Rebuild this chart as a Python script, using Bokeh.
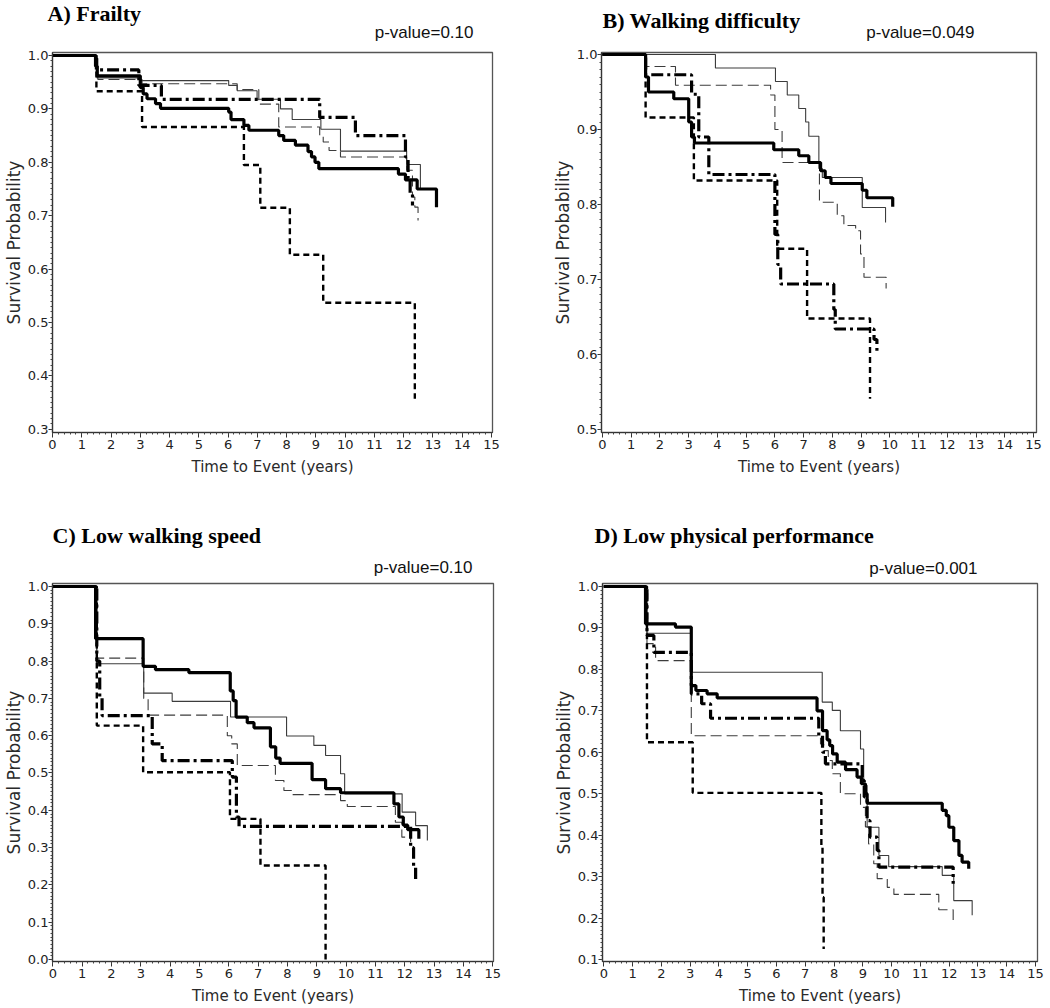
from bokeh.plotting import figure
from bokeh.models import Range1d, SingleIntervalTicker, NumeralTickFormatter
from bokeh.core.properties import value
from bokeh.layouts import column, row
from bokeh.embed import file_html
from bokeh.resources import INLINE

# ---------------- data ----------------
TITLES = ["A) Frailty", "B) Walking difficulty", "C) Low walking speed", "D) Low physical performance"]
PVALUES = ["p-value=0.10", "p-value=0.049", "p-value=0.10", "p-value=0.001"]
X_LABEL = "Time to Event (years)"
Y_LABEL = "Survival Probability"

# Panel A: Frailty
A1_t = [0, 1.47, 1.53, 3.00, 3.10, 3.23, 3.52, 3.69, 6.02, 6.10, 6.54, 6.71, 7.73, 7.90, 8.30, 8.73, 8.85, 8.97, 9.10, 11.82, 12.06, 12.46, 13.12]
A1_s = [1.0, 0.980, 0.962, 0.940, 0.928, 0.919, 0.910, 0.901, 0.894, 0.880, 0.869, 0.860, 0.850, 0.841, 0.832, 0.820, 0.810, 0.800, 0.788, 0.778, 0.767, 0.750, 0.716]
A2_t = [0, 1.52, 3.02, 6.02, 6.31, 6.99, 7.79, 8.19, 9.17, 9.84, 12.10, 12.57]
A2_s = [1.0, 0.958, 0.953, 0.944, 0.934, 0.918, 0.900, 0.880, 0.862, 0.821, 0.796, 0.752]
A3_t = [0, 1.55, 3.06, 6.31, 7.05, 7.73, 9.13, 9.25, 9.45, 9.84, 12.10, 12.30, 12.38, 12.49]
A3_s = [1.0, 0.955, 0.947, 0.936, 0.909, 0.866, 0.850, 0.838, 0.822, 0.810, 0.785, 0.735, 0.716, 0.691]
A4_t = [0, 1.50, 2.95, 3.72, 9.13, 10.35, 12.06, 12.15, 12.22, 12.30]
A4_s = [1.0, 0.973, 0.944, 0.918, 0.884, 0.850, 0.810, 0.770, 0.740, 0.719]
A5_t = [0, 1.50, 3.06, 6.54, 7.10, 8.11, 9.25, 12.38]
A5_s = [1.0, 0.933, 0.866, 0.795, 0.715, 0.627, 0.537, 0.357]

# Panel B: Walking difficulty
B1_t = [0, 1.50, 1.60, 2.48, 3.00, 3.10, 3.20, 5.96, 6.83, 7.18, 7.59, 7.75, 7.95, 9.04, 9.20, 10.10]
B1_s = [1.0, 0.970, 0.950, 0.941, 0.910, 0.890, 0.882, 0.873, 0.865, 0.856, 0.845, 0.836, 0.828, 0.819, 0.809, 0.797]
B2_t = [0, 3.93, 6.02, 6.43, 6.83, 7.07, 7.18, 7.53, 7.65, 9.04, 9.85]
B2_s = [1.0, 0.982, 0.964, 0.946, 0.928, 0.910, 0.891, 0.848, 0.836, 0.796, 0.776]
B3_t = [0, 1.50, 2.54, 5.85, 6.00, 6.25, 7.55, 8.17, 8.40, 8.81, 8.98, 9.10, 9.87]
B3_s = [1.0, 0.984, 0.959, 0.946, 0.900, 0.856, 0.803, 0.785, 0.772, 0.765, 0.734, 0.703, 0.688]
B4_t = [0, 1.50, 3.10, 3.35, 3.70, 6.00, 6.10, 6.20, 8.05, 8.10, 9.45, 9.55]
B4_s = [1.0, 0.973, 0.947, 0.890, 0.840, 0.760, 0.720, 0.694, 0.660, 0.634, 0.620, 0.605]
B5_t = [0, 1.50, 3.18, 6.08, 7.12, 9.31]
B5_s = [1.0, 0.916, 0.832, 0.741, 0.648, 0.541]

# Panel C: Low walking speed
C1_t = [0, 1.46, 3.08, 3.50, 4.64, 6.05, 6.15, 6.25, 6.63, 6.86, 7.42, 7.60, 7.75, 8.84, 9.30, 9.81, 11.63, 11.80, 11.95, 12.10, 12.48]
C1_s = [1.0, 0.860, 0.786, 0.777, 0.769, 0.720, 0.694, 0.650, 0.635, 0.621, 0.570, 0.540, 0.526, 0.482, 0.458, 0.447, 0.417, 0.382, 0.360, 0.348, 0.324]
C2_t = [0, 1.50, 3.10, 4.07, 6.06, 7.97, 8.90, 9.30, 9.81, 9.95, 11.91, 12.37, 12.77]
C2_s = [1.0, 0.793, 0.714, 0.692, 0.650, 0.599, 0.574, 0.547, 0.498, 0.444, 0.395, 0.359, 0.319]
C3_t = [0, 1.50, 3.10, 3.25, 5.95, 6.10, 6.29, 7.59, 7.88, 8.16, 9.81, 10.04, 11.68, 11.90, 12.20]
C3_s = [1.0, 0.808, 0.700, 0.655, 0.600, 0.578, 0.520, 0.480, 0.453, 0.442, 0.426, 0.410, 0.368, 0.328, 0.315]
C4_t = [0, 1.50, 1.60, 1.68, 3.39, 3.73, 6.12, 6.26, 6.35, 12.20, 12.30, 12.37]
C4_s = [1.0, 0.800, 0.703, 0.654, 0.578, 0.533, 0.489, 0.382, 0.357, 0.300, 0.250, 0.216]
C5_t = [0, 1.50, 3.08, 6.04, 7.08, 9.30]
C5_s = [1.0, 0.627, 0.502, 0.377, 0.252, 0.0]

# Panel D: Low physical performance
D1_t = [0, 1.45, 2.49, 3.04, 3.20, 3.59, 3.94, 7.41, 7.60, 7.76, 7.85, 7.95, 8.11, 8.40, 8.80, 8.95, 9.09, 9.15, 11.76, 11.90, 11.99, 12.16, 12.34, 12.45, 12.68]
D1_s = [1.0, 0.910, 0.902, 0.761, 0.749, 0.741, 0.731, 0.700, 0.652, 0.630, 0.616, 0.596, 0.576, 0.558, 0.540, 0.524, 0.500, 0.477, 0.460, 0.447, 0.419, 0.387, 0.351, 0.335, 0.319]
D2_t = [0, 1.50, 3.04, 7.59, 7.94, 8.22, 8.92, 9.03, 9.15, 9.56, 9.90, 11.76, 12.16, 12.80]
D2_s = [1.0, 0.887, 0.793, 0.721, 0.701, 0.652, 0.608, 0.520, 0.419, 0.351, 0.324, 0.303, 0.242, 0.207]
D3_t = [0, 1.50, 1.80, 3.04, 7.53, 7.64, 7.80, 7.94, 8.22, 8.92, 9.09, 9.20, 9.38, 9.50, 9.85, 10.08, 11.64, 12.14]
D3_s = [1.0, 0.862, 0.821, 0.640, 0.620, 0.604, 0.580, 0.548, 0.500, 0.467, 0.420, 0.379, 0.331, 0.295, 0.274, 0.257, 0.220, 0.194]
D4_t = [0, 1.50, 1.74, 3.04, 3.40, 3.71, 7.47, 7.60, 7.70, 8.98, 9.05, 9.15, 9.25, 9.50, 9.56, 12.14]
D4_s = [1.0, 0.882, 0.841, 0.741, 0.717, 0.682, 0.640, 0.600, 0.572, 0.532, 0.492, 0.435, 0.395, 0.363, 0.323, 0.283]
D5_t = [0, 1.50, 3.09, 7.56, 7.60, 7.64]
D5_s = [1.0, 0.624, 0.502, 0.375, 0.250, 0.125]

PANELS = [
    [(A1_t, A1_s), (A2_t, A2_s), (A3_t, A3_s), (A4_t, A4_s), (A5_t, A5_s)],
    [(B1_t, B1_s), (B2_t, B2_s), (B3_t, B3_s), (B4_t, B4_s), (B5_t, B5_s)],
    [(C1_t, C1_s), (C2_t, C2_s), (C3_t, C3_s), (C4_t, C4_s), (C5_t, C5_s)],
    [(D1_t, D1_s), (D2_t, D2_s), (D3_t, D3_s), (D4_t, D4_s), (D5_t, D5_s)],
]

# ---------------- styling / layout ----------------
LINE_STYLES = [
    dict(line_color="black", line_width=3.2, line_dash="solid"),          # thick solid
    dict(line_color="#3c3c3c", line_width=1.1, line_dash="solid"),        # thin solid
    dict(line_color="#3c3c3c", line_width=1.1, line_dash="11 5"),         # thin long dash
    dict(line_color="black", line_width=3.2, line_dash="12 4 3 4"),       # thick dash-dot
    dict(line_color="black", line_width=2.4, line_dash="6 4"),            # short dash
]
DRAW_ORDER = [1, 2, 4, 3, 0]

TOTAL_W = 1048
W = 524
# header strips (full width): height and text anchors in header pixels
# (y values already compensate the renderer's ~7 px baseline shift)
HEADERS = [
    dict(h=44, items=[(0, (47, 13), (473, 32)), (1, (602, 20), (974, 32))]),
    dict(h=79, items=[(2, (52, 35), (472, 67)), (3, (594, 35), (977, 68))]),
]
# main panels: height, borders (left, right, top, bottom), x range, y range
GEOM = [
    dict(mh=456, b=(52, 32, 8, 68), xr=(0.0, 15.034), yr=(0.2940, 1.0056)),
    dict(mh=456, b=(77, 12, 8, 68), xr=(-0.035, 15.104), yr=(0.4960, 1.0027)),
    dict(mh=429, b=(52, 31, 4, 47), xr=(-0.010, 15.025), yr=(-0.0054, 1.0080)),
    dict(mh=429, b=(78, 11, 4, 47), xr=(-0.045, 15.070), yr=(0.0951, 1.0072)),
]

AXIS_FONT = "DejaVu Sans"


def make_header(k):
    hd = HEADERS[k]
    H = hd["h"]
    h = figure(width=TOTAL_W, height=H, output_backend="svg", toolbar_location=None,
               title=None, x_axis_location=None, y_axis_location=None,
               x_range=Range1d(0, TOTAL_W), y_range=Range1d(H, 0),
               min_border=0, outline_line_color=None)
    h.grid.visible = False
    h.background_fill_color = "white"
    h.border_fill_color = "white"
    for i, (tx, ty), (px, py) in hd["items"]:
        h.text(x=[tx], y=[ty], text=[TITLES[i]], text_font=value("Liberation Serif"),
               text_font_style="bold", text_font_size="22px", text_color="black",
               text_align="left", text_baseline="alphabetic")
        h.text(x=[px], y=[py], text=[PVALUES[i]], text_font=value("Liberation Sans"),
               text_font_size="17px", text_color="#111111",
               text_align="right", text_baseline="alphabetic")
    return h


def make_panel(i):
    g = GEOM[i]
    p = figure(width=W, height=g["mh"], output_backend="svg", toolbar_location=None,
               title=None, x_range=Range1d(*g["xr"]), y_range=Range1d(*g["yr"]),
               min_border_left=g["b"][0], min_border_right=g["b"][1],
               min_border_top=g["b"][2], min_border_bottom=g["b"][3])
    p.grid.visible = False
    p.outline_line_color = "#555555"
    p.outline_line_width = 1.3
    p.background_fill_color = "white"
    p.border_fill_color = "white"

    p.xaxis.ticker = SingleIntervalTicker(interval=1, num_minor_ticks=5)
    p.yaxis.ticker = SingleIntervalTicker(interval=0.1, num_minor_ticks=10)
    p.xaxis.formatter = NumeralTickFormatter(format="0")
    p.yaxis.formatter = NumeralTickFormatter(format="0.0")
    for ax in (p.xaxis, p.yaxis):
        ax.axis_line_color = "#333333"
        ax.axis_line_width = 1.2
        ax.major_tick_line_color = "#333333"
        ax.minor_tick_line_color = "#444444"
        ax.major_tick_in = 0
        ax.major_tick_out = 4
        ax.minor_tick_in = 0
        ax.minor_tick_out = 2
        ax.major_label_text_font = AXIS_FONT
        ax.major_label_text_font_size = "13px"
        ax.major_label_text_color = "#222222"
        ax.axis_label_text_font = AXIS_FONT
        ax.axis_label_text_font_style = "normal"
        ax.axis_label_text_color = "#2a2a2a"
    p.xaxis.major_tick_out = 5
    p.xaxis.major_label_standoff = 2
    p.yaxis.major_label_standoff = 0
    p.xaxis.axis_label = X_LABEL
    p.yaxis.axis_label = Y_LABEL
    p.xaxis.axis_label_text_font_size = "15px"
    p.yaxis.axis_label_text_font_size = "17px"
    p.xaxis.axis_label_standoff = 6
    p.yaxis.axis_label_standoff = 1

    for k in DRAW_ORDER:
        t, s = PANELS[i][k]
        p.step(t, s, mode="after", **LINE_STYLES[k])
    return p


mains = [make_panel(i) for i in range(4)]
layout = column(make_header(0), row(mains[0], mains[1]),
                make_header(1), row(mains[2], mains[3]))

open("out.html", "w").write(file_html(layout, INLINE))
